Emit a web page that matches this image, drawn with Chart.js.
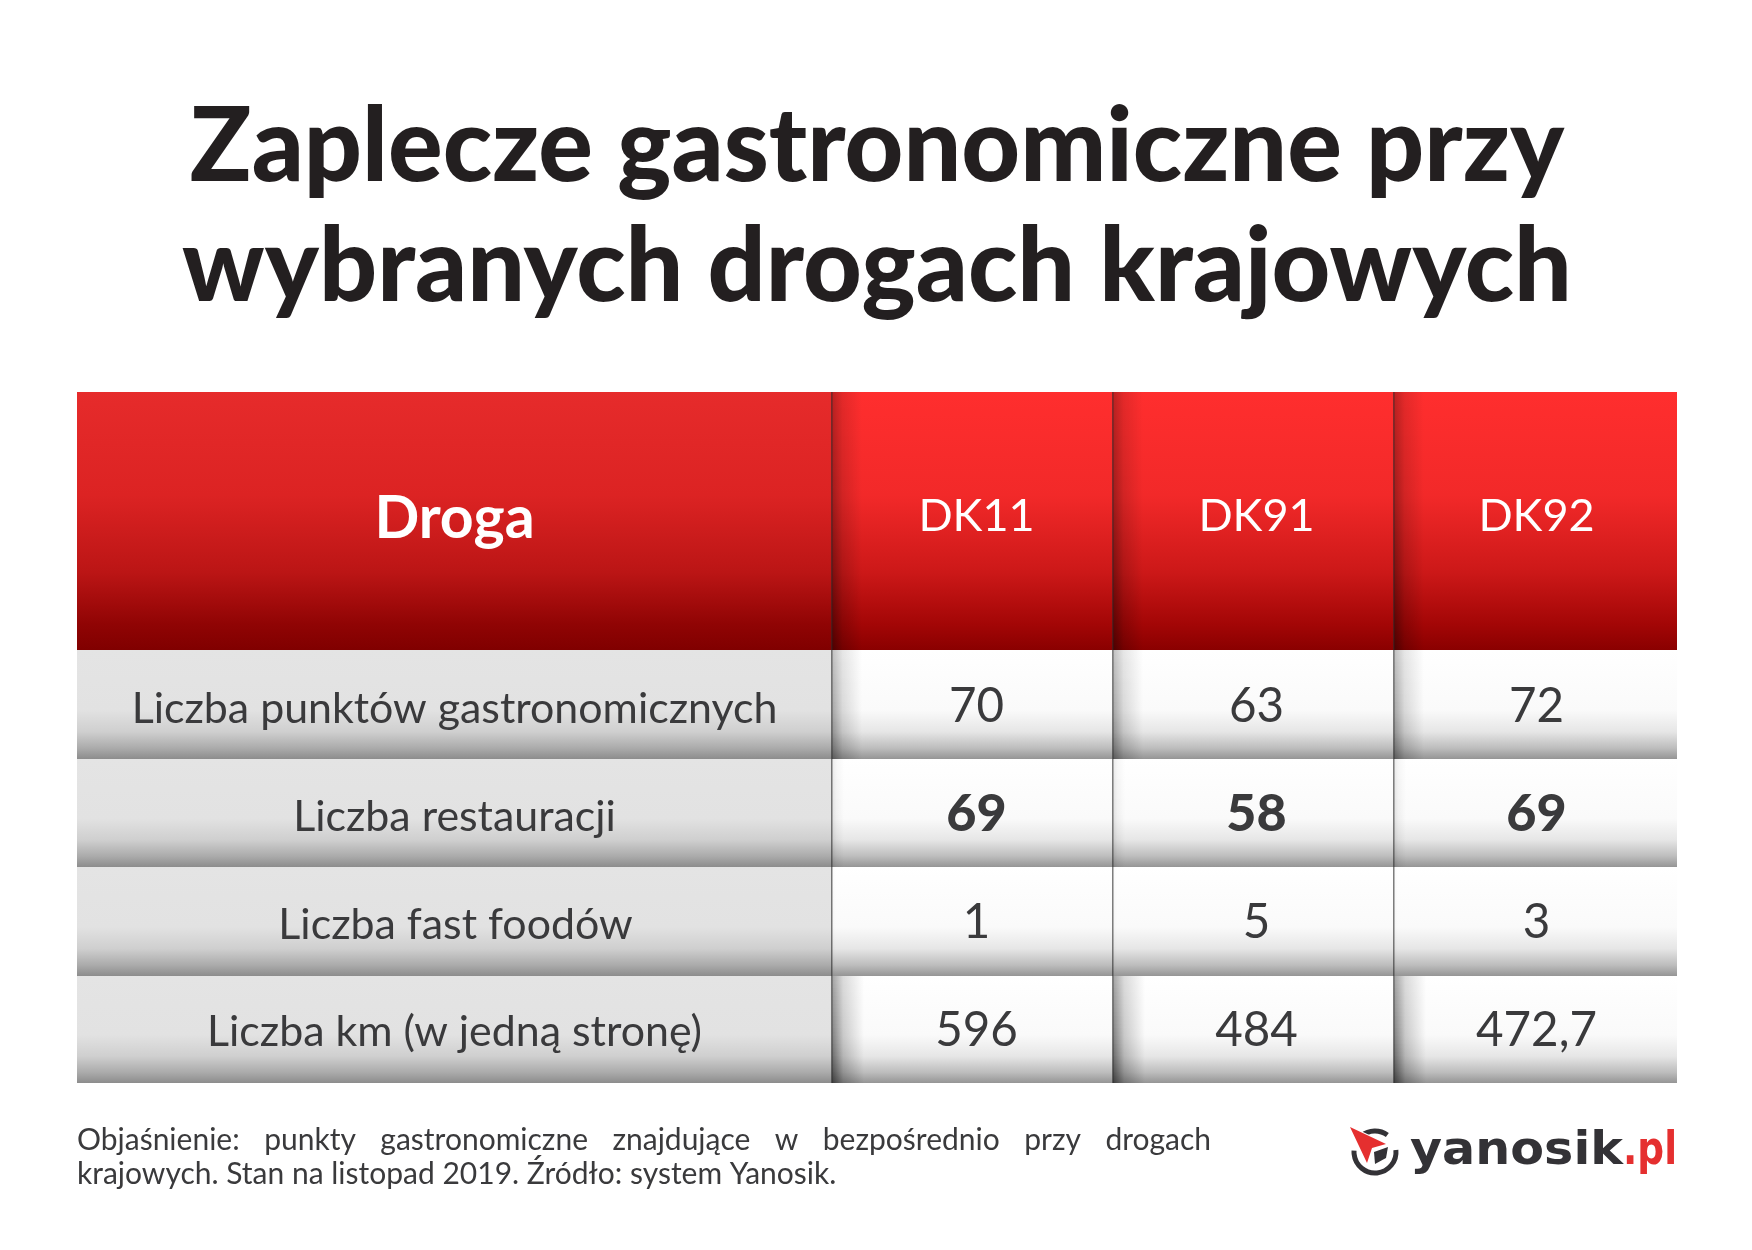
<!DOCTYPE html>
<html>
<head>
<meta charset="utf-8">
<script src="https://cdn.jsdelivr.net/npm/chart.js@4"></script>
<style>
  html, body { margin: 0; padding: 0; background: #fff; }
  canvas { display: block; }
</style>
</head>
<body>
<canvas id="table-chart" width="1752" height="1250"></canvas>
<script>
var headers = ['Droga', 'DK11', 'DK91', 'DK92'];
var rows = [
   { label: 'Liczba punktów gastronomicznych', values: [70, 63, 72] },
   { label: 'Liczba restauracji', values: [69, 58, 69], bold: true },
   { label: 'Liczba fast foodów', values: [1, 5, 3] },
   { label: 'Liczba km (w jedną stronę)', values: [596, 484, 472.7] }
];

// table geometry, in px of the chart area
var colWidths = [755, 281, 281, 283];
var rowHeights = [258, 109, 108, 109, 107];
var rowShadow = [[30, 0.45], [30, 0.42], [12, 0.14], [4, 0.05], [32, 0.6]];
var textDx = [0, 4, 3, 1];
var labelBase = [146, 331, 439, 547, 654];
var valueBase = [139, 330, 439, 546, 654];
var TEXT = '#3a3a3c';

function edges(sizes) {
   var out = [0];
   sizes.forEach(function (s) { out.push(out[out.length - 1] + s); });
   return out;
}
var colEdges = edges(colWidths);
var rowEdges = edges(rowHeights);

function cellFill(ctx) {
   var chart = ctx.chart;
   if (!chart.chartArea) return '#ddd';
   var r = ctx.datasetIndex, c = ctx.dataIndex;
   var y = chart.scales.y;
   var g = chart.ctx.createLinearGradient(0, y.getPixelForValue(rowEdges[r]), 0, y.getPixelForValue(rowEdges[r + 1]));
   var stops;
   if (r === 0 && c === 0) stops = [[0, '#e62b2b'], [0.4, '#dc2323'], [0.7, '#bb1515'], [0.9, '#900404'], [1, '#800000']];
   else if (r === 0) stops = [[0, '#ff2e2e'], [0.4, '#f22929'], [0.7, '#cc1818'], [0.9, '#a30606'], [1, '#8a0000']];
   else if (c === 0) stops = [[0, '#e4e4e4'], [0.55, '#e2e2e2'], [0.75, '#cfcfcf'], [0.9, '#ababab'], [1, '#8c8c8c']];
   else stops = [[0, '#ffffff'], [0.55, '#fafafa'], [0.75, '#e6e6e6'], [0.9, '#bdbdbd'], [1, '#959595']];
   stops.forEach(function (s) { g.addColorStop(s[0], s[1]); });
   return g;
}

var datasets = rowHeights.map(function (h, r) {
   return {
      label: r === 0 ? headers[0] : rows[r - 1].label,
      data: colWidths.map(function (w, c) {
         return { x: [colEdges[c], colEdges[c + 1]], y: rowEdges[r] + h / 2 };
      }),
      barThickness: h,
      backgroundColor: cellFill,
      borderWidth: 0,
      inflateAmount: 0,
      grouped: false
   };
});

var cellPlugin = {
   id: 'cells',
   afterDatasetsDraw: function (chart) {
      var ctx = chart.ctx;
      var area = chart.chartArea;
      ctx.save();
      // column shadows, a bit stronger toward the bottom of each row
      for (var r = 0; r < rowHeights.length; r++) {
         var top = area.top + rowEdges[r], bottom = area.top + rowEdges[r + 1];
         for (var c = 1; c < colEdges.length - 1; c++) {
            var x = area.left + colEdges[c];
            for (var s = top; s < bottom; s += 4) {
               var a = rowShadow[r][1] * (0.6 + 0.4 * (s - top) / (bottom - top));
               var g = ctx.createLinearGradient(x, 0, x + rowShadow[r][0], 0);
               g.addColorStop(0, 'rgba(0,0,0,' + a + ')');
               g.addColorStop(0.35, 'rgba(0,0,0,' + a * 0.4 + ')');
               g.addColorStop(1, 'rgba(0,0,0,0)');
               ctx.fillStyle = g;
               ctx.fillRect(x, s, rowShadow[r][0], Math.min(4, bottom - s));
            }
            ctx.fillStyle = 'rgba(40,40,40,0.6)';
            ctx.fillRect(x - 1, top, 1.5, bottom - top);
         }
      }
      // cell text
      ctx.textAlign = 'center';
      ctx.textBaseline = 'alphabetic';
      chart.data.datasets.forEach(function (ds, r) {
         var meta = chart.getDatasetMeta(r);
         meta.data.forEach(function (bar, c) {
            var cx = (bar.base + bar.x) / 2 + textDx[c];
            var y = area.top + (c === 0 ? labelBase[r] : valueBase[r]);
            var txt;
            if (r === 0) {
               txt = headers[c];
               ctx.fillStyle = '#fff';
               ctx.font = c === 0 ? '700 59px Lato' : '400 45px Lato';
            } else {
               var row = rows[r - 1];
               txt = c === 0 ? row.label : String(row.values[c - 1]).replace('.', ',');
               ctx.fillStyle = TEXT;
               ctx.font = c === 0 ? '400 42.9px Lato' : (row.bold ? '900 52px "Lato Black", Lato' : '400 47.5px Lato');
            }
            ctx.fillText(txt, c === 0 && r === 3 ? cx + 1 : cx, y);
         });
      });
      ctx.restore();
   }
};

var footPlugin = {
   id: 'foot',
   afterDraw: function (chart) {
      var ctx = chart.ctx;
      ctx.save();
      ctx.fillStyle = '#3a3a3c';
      ctx.font = '400 30px Lato';
      ctx.textAlign = 'left';
      ctx.textBaseline = 'alphabetic';
      // first line is justified to the block width
      var words = 'Objaśnienie: punkty gastronomiczne znajdujące w bezpośrednio przy drogach'.split(' ');
      var total = words.reduce(function (a, w) { return a + ctx.measureText(w).width; }, 0);
      var gap = (1134 - total) / (words.length - 1);
      var x = 77;
      words.forEach(function (w) {
         ctx.fillText(w, x, 1150);
         x += ctx.measureText(w).width + gap;
      });
      ctx.fillText('krajowych. Stan na listopad 2019. Źródło: system Yanosik.', 77, 1184);

      // logo
      ctx.lineWidth = 5;
      ctx.strokeStyle = '#333236';
      ctx.beginPath();
      ctx.arc(1375, 1152, 21, -0.1, Math.PI * 1.02);
      ctx.stroke();
      ctx.beginPath();
      ctx.arc(1375, 1152, 21, -Math.PI * 0.72, -0.3 * Math.PI);
      ctx.stroke();
      ctx.fillStyle = '#333236';
      ctx.beginPath();
      ctx.moveTo(1374, 1152); ctx.lineTo(1388, 1147); ctx.lineTo(1386, 1158); ctx.lineTo(1375, 1164);
      ctx.closePath();
      ctx.fill();
      ctx.fillStyle = '#e52f2f';
      ctx.strokeStyle = '#fff';
      ctx.lineWidth = 2;
      ctx.beginPath();
      ctx.moveTo(1350, 1127); ctx.lineTo(1386, 1144); ctx.lineTo(1372, 1148); ctx.lineTo(1367, 1163);
      ctx.closePath();
      ctx.stroke();
      ctx.fill();

      function wide(txt, color, left, width) {
         ctx.save();
         ctx.font = '700 47px "DejaVu Sans"';
         ctx.fillStyle = color;
         var sx = width / ctx.measureText(txt).width;
         ctx.translate(left, 1164);
         ctx.scale(sx, 1);
         ctx.fillText(txt, 0, 0);
         ctx.restore();
      }
      wide('yanosik', '#333236', 1410, 213);
      wide('.pl', '#e52f2f', 1623, 54);
      ctx.restore();
   }
};

var chart = new Chart(document.getElementById('table-chart'), {
   type: 'bar',
   data: { labels: headers, datasets: datasets },
   plugins: [cellPlugin, footPlugin],
   options: {
      indexAxis: 'y',
      responsive: false,
      animation: false,
      devicePixelRatio: 1,
      layout: { padding: { left: 77, right: 75, top: 88, bottom: 167 } },
      scales: {
         x: { type: 'linear', display: false, offset: false, min: 0, max: colEdges[colEdges.length - 1] },
         y: { type: 'linear', display: false, offset: false, reverse: true, min: 0, max: rowEdges[rowEdges.length - 1] }
      },
      plugins: {
         legend: { display: false },
         tooltip: { enabled: false },
         title: {
            display: true,
            text: ['Zaplecze gastronomiczne przy', 'wybranych drogach krajowych'],
            color: '#231f20',
            font: { family: '"Lato Black", Lato', size: 102, weight: '900', lineHeight: 1.1765 },
            padding: { top: 0, bottom: 64 }
         }
      }
   }
});
</script>
</body>
</html>
